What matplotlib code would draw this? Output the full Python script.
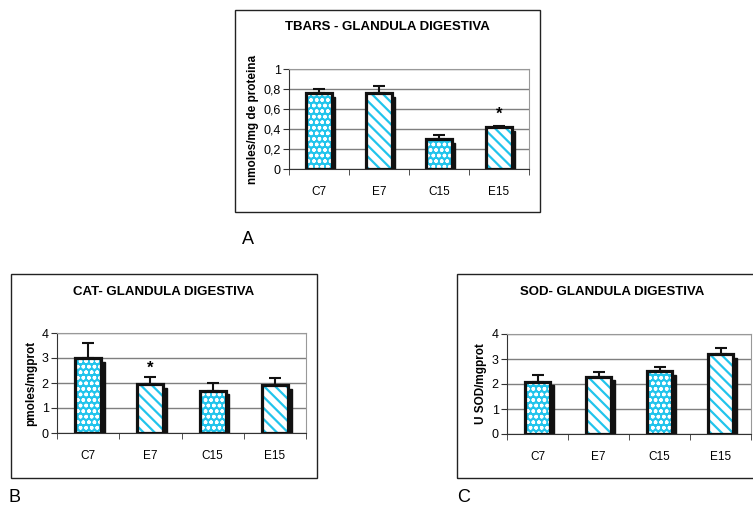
import matplotlib
matplotlib.use("Agg")
import matplotlib.pyplot as plt
from matplotlib.patches import Rectangle

plt.rcParams['font.family'] = ['Liberation Sans', 'DejaVu Sans']

# Data
groups = ["C7", "E7", "C15", "E15"]

tbars_vals = [0.76, 0.76, 0.30, 0.42]
tbars_err = [0.04, 0.07, 0.04, 0.01]

cat_vals = [3.0, 1.95, 1.70, 1.92]
cat_err = [0.62, 0.28, 0.30, 0.27]

sod_vals = [2.10, 2.30, 2.52, 3.20]
sod_err = [0.25, 0.20, 0.18, 0.25]

CYAN = "#22C4EC"
W, H = 753, 509


def px_axes(fig, x0, y0, x1, y1):
    # axes from pixel coordinates (top-left origin)
    return fig.add_axes([x0 / W, (H - y1) / H, (x1 - x0) / W, (y1 - y0) / H])


def px_box(fig, x0, y0, x1, y1):
    r = Rectangle((x0 / W, (H - y1) / H), (x1 - x0) / W, (y1 - y0) / H,
                  transform=fig.transFigure, fill=False, edgecolor="#222222",
                  linewidth=1.0, zorder=0)
    fig.patches.append(r)


def draw_panel(ax, vals, errs, ymax, step, fmt, ylabel, star_idx=None, star_y=None):
    width = 0.42
    shadow_dx = 0.06
    shadow_dy = ymax * 0.035
    for i, (v, e) in enumerate(zip(vals, errs)):
        # shadow
        ax.add_patch(Rectangle((i - width / 2 + shadow_dx, 0), width, v - shadow_dy,
                               facecolor="#111111", edgecolor="#111111", lw=1, zorder=2))
        if groups[i].startswith("C"):
            with plt.rc_context({'hatch.linewidth': 1.0}):
                ax.bar(i, v, width, color=CYAN, edgecolor="white", hatch="ooo",
                       linewidth=0, zorder=3)
        else:
            with plt.rc_context({'hatch.linewidth': 1.6}):
                ax.bar(i, v, width, color="white", edgecolor=CYAN, hatch="\\\\\\",
                       linewidth=0, zorder=3)
        ax.bar(i, v, width, fill=False, edgecolor="#111111", linewidth=2.3, zorder=4)
        ax.errorbar(i, v, yerr=[[0], [e]], color="#111111", capsize=4,
                    elinewidth=1.5, capthick=1.5, zorder=5)
    if star_idx is not None:
        ax.text(star_idx, star_y, "*", ha="center", va="center", fontsize=12,
                fontweight="bold", zorder=6)

    ax.set_xlim(-0.5, len(groups) - 0.5)
    ax.set_ylim(0, ymax)
    ticks = [round(k * step, 2) for k in range(int(round(ymax / step)) + 1)]
    ax.set_yticks(ticks)
    ax.set_yticklabels([fmt(t) for t in ticks], fontsize=9)
    ax.set_xticks(range(len(groups)))
    ax.set_xticklabels(groups, fontsize=8.5)
    ax.set_xticks([k + 0.5 for k in range(-1, len(groups))], minor=True)
    ax.tick_params(axis="x", which="major", length=0, pad=12)
    ax.tick_params(axis="x", which="minor", length=4, direction="out", color="#333333")
    ax.tick_params(axis="y", length=4, direction="out", color="#333333", pad=2)
    ax.yaxis.grid(True, color="#7f7f7f", linewidth=1.0, zorder=0)
    ax.set_axisbelow(True)
    for s in ["top", "right"]:
        ax.spines[s].set_color("#999999")
    for s in ["left", "bottom"]:
        ax.spines[s].set_color("#333333")
    ax.set_ylabel(ylabel, fontsize=8.5, fontweight="bold", labelpad=3)


fig = plt.figure(figsize=(W / 100, H / 100), dpi=100)

# Panel A
px_box(fig, 235, 10, 540, 212)
axA = px_axes(fig, 289, 69, 529, 169)
draw_panel(axA, tbars_vals, tbars_err, 1.0, 0.2,
           lambda t: ("%g" % t).replace(".", ","), "nmoles/mg de proteina",
           star_idx=3, star_y=0.55)
fig.text(387 / W, 1 - 27 / H, "TBARS - GLANDULA DIGESTIVA", ha="center", va="center",
         fontsize=9.5, fontweight="bold")
fig.text(248 / W, 1 - 240 / H, "A", ha="center", va="center", fontsize=13)

# Panel B
px_box(fig, 11, 274, 317, 478)
axB = px_axes(fig, 57, 333, 306, 433)
draw_panel(axB, cat_vals, cat_err, 4, 1, lambda t: "%g" % t, "pmoles/mgprot",
           star_idx=1, star_y=2.6)
fig.text(164 / W, 1 - 292 / H, "CAT- GLANDULA DIGESTIVA", ha="center", va="center",
         fontsize=9.5, fontweight="bold")
fig.text(14 / W, 1 - 497 / H, "B", ha="center", va="center", fontsize=13)

# Panel C
px_box(fig, 457, 274, 770, 478)
axC = px_axes(fig, 507, 334, 751, 434)
draw_panel(axC, sod_vals, sod_err, 4, 1, lambda t: "%g" % t, "U SOD/mgprot")
fig.text(612 / W, 1 - 292 / H, "SOD- GLANDULA DIGESTIVA", ha="center", va="center",
         fontsize=9.5, fontweight="bold")
fig.text(464 / W, 1 - 497 / H, "C", ha="center", va="center", fontsize=13)

fig.savefig("out.png", dpi=100)
